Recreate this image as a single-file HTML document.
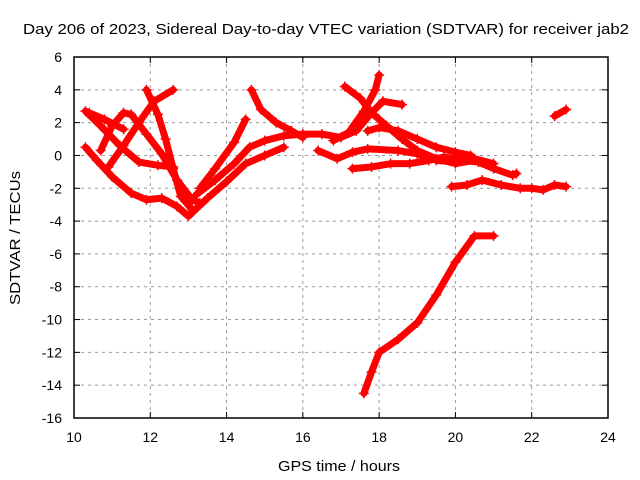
<!DOCTYPE html>
<html><head><meta charset="utf-8"><style>
body{margin:0;background:#fff}
svg{display:block;font-family:"Liberation Sans",sans-serif}
</style></head><body>
<svg id="chart" width="640" height="480">
<rect width="640" height="480" fill="#fff"/>
<text x="326" y="34" font-size="15" text-anchor="middle" textLength="606" lengthAdjust="spacingAndGlyphs">Day 206 of 2023, Sidereal Day-to-day VTEC variation (SDTVAR) for receiver jab2</text>
<text x="339" y="471" font-size="15" text-anchor="middle" textLength="122" lengthAdjust="spacingAndGlyphs">GPS time / hours</text>
<text transform="translate(20,238) rotate(-90)" font-size="15" text-anchor="middle" textLength="134" lengthAdjust="spacingAndGlyphs">SDTVAR / TECUs</text>
<g id="grid"></g><g id="ticks"></g><g id="series"></g>
<rect x="74" y="57" width="534" height="361" fill="none" stroke="#000" stroke-width="1.5"/>
</svg>
<script>
const xTicks=[10,12,14,16,18,20,22,24];
const yTicks=[6,4,2,0,-2,-4,-6,-8,-10,-12,-14,-16];
const traceA=[[10.3,2.7],[10.7,1.8],[11.2,0.6],[11.7,-0.4],[12.2,-0.6],[12.6,-0.7]];
const traceB=[[10.3,0.5],[10.6,-0.3],[11,-1.3],[11.5,-2.3],[11.9,-2.7],[12.3,-2.6],[12.7,-3.1],[13,-3.7],[13.5,-2.6],[14,-1.6],[14.5,-0.5],[15,0],[15.5,0.5]];
const traceC=[[10.9,-0.7],[11.3,0.6],[11.7,2.0],[12.1,3.3],[12.6,4.0]];
const traceD=[[11.9,4.0],[12.2,2.5],[12.4,1.0],[12.6,-0.8],[12.8,-2.5],[13.1,-3.3]];
const traceE=[[10.7,0.3],[11,1.8],[11.3,2.6],[11.5,2.5],[11.9,1.3],[12.3,0.1],[12.7,-1.5],[13.1,-2.7],[13.3,-2.9]];
const traceF=[[10.4,2.6],[10.8,2.2],[11.3,1.6]];
const traceG=[[14.65,4.0],[14.9,2.8],[15.3,2.0],[15.7,1.5],[16,1.1]];
const traceH=[[13.2,-2.4],[13.7,-1.5],[14.2,-0.5],[14.6,0.5],[15,0.9],[15.5,1.2],[16,1.3],[16.5,1.3],[17,1.1],[17.4,1.5],[17.8,2.6],[18.1,3.3],[18.6,3.1]];
const traceI=[[13.3,-2.0],[13.7,-0.8],[14.2,0.8],[14.5,2.2]];
const traceJ=[[17.1,4.2],[17.5,3.5],[17.8,2.6],[18.2,1.8],[18.6,1.0],[19,0.3],[19.5,-0.2],[20,-0.5],[20.5,-0.3],[21,-0.8],[21.5,-1.2],[21.6,-1.1]];
const traceK=[[16.8,0.9],[17.2,1.4],[17.6,2.7],[17.9,4.0],[18,4.9]];
const traceL=[[16.4,0.3],[16.9,-0.2],[17.3,0.2],[17.7,0.4],[18.5,0.3],[19,0.1],[19.5,-0.3],[20,-0.4],[20.5,-0.2],[21,-0.5]];
const traceM=[[17.7,1.5],[18,1.7],[18.5,1.5],[19,1.0],[19.5,0.5],[20,0.2],[20.4,0]];
const traceN=[[17.3,-0.8],[17.8,-0.7],[18.3,-0.5],[18.8,-0.5],[19.3,-0.3],[19.7,-0.1],[20.2,-0.3],[20.6,-0.4]];
const traceO=[[19.9,-1.9],[20.3,-1.8],[20.7,-1.5],[21.2,-1.8],[21.7,-2.0],[22,-2.0],[22.3,-2.1],[22.6,-1.8],[22.9,-1.9]];
const traceP=[[22.6,2.4],[22.9,2.8]];
const traceQ=[[17.6,-14.5],[17.8,-13.2],[18,-12],[18.5,-11.2],[19,-10.2],[19.5,-8.5],[20,-6.5],[20.5,-4.9],[21,-4.9]];
const traces=[traceA,traceB,traceC,traceD,traceE,traceF,traceG,traceH,traceI,traceJ,traceK,traceL,traceM,traceN,traceO,traceP,traceQ];
const X=h=>74+(h-10)*534/14;
const Y=v=>57+(6-v)*361/22;
const NS="http://www.w3.org/2000/svg";
const grid=document.getElementById('grid'),ticks=document.getElementById('ticks'),ser=document.getElementById('series');
function mk(tag,attrs,parent){const e=document.createElementNS(NS,tag);for(const k in attrs)e.setAttribute(k,attrs[k]);parent.appendChild(e);return e;}
xTicks.forEach(t=>{
  const x=X(t);
  if(t>10&&t<24){const g=mk('line',{x1:x,x2:x,y1:57,y2:418,stroke:'#999','stroke-dasharray':'3,4'},grid);
  
  }
  mk('line',{x1:x,x2:x,y1:418,y2:412,stroke:'#000'},ticks);
  mk('line',{x1:x,x2:x,y1:57,y2:63,stroke:'#000'},ticks);
  const l=mk('text',{x:x,y:442,'font-size':14,'text-anchor':'middle'},ticks);l.textContent=t;
  
  
});
yTicks.forEach(t=>{
  const y=Y(t);
  if(t<6&&t>-16){const g=mk('line',{x1:74,x2:608,y1:y,y2:y,stroke:'#999','stroke-dasharray':'3,4'},grid);
  
  }
  mk('line',{x1:74,x2:80,y1:y,y2:y,stroke:'#000'},ticks);
  mk('line',{x1:602,x2:608,y1:y,y2:y,stroke:'#000'},ticks);
  const l=mk('text',{x:62,y:y+5,'font-size':14,'text-anchor':'end'},ticks);l.textContent=t;
  
  
});
traces.forEach((tr,i)=>{
  const p=mk('polyline',{points:tr.map(d=>X(d[0])+','+Y(d[1])).join(' '),fill:'none',stroke:'#f00','stroke-width':7,'stroke-linejoin':'round','stroke-linecap':'round'},ser);
  
  
  tr.forEach(d=>{
    const m=mk('path',{d:`M${X(d[0])-5},${Y(d[1])}h10M${X(d[0])},${Y(d[1])-5}v10`,stroke:'#f00','stroke-width':1.5},ser);
    
    
  });
});
</script>
</body></html>
